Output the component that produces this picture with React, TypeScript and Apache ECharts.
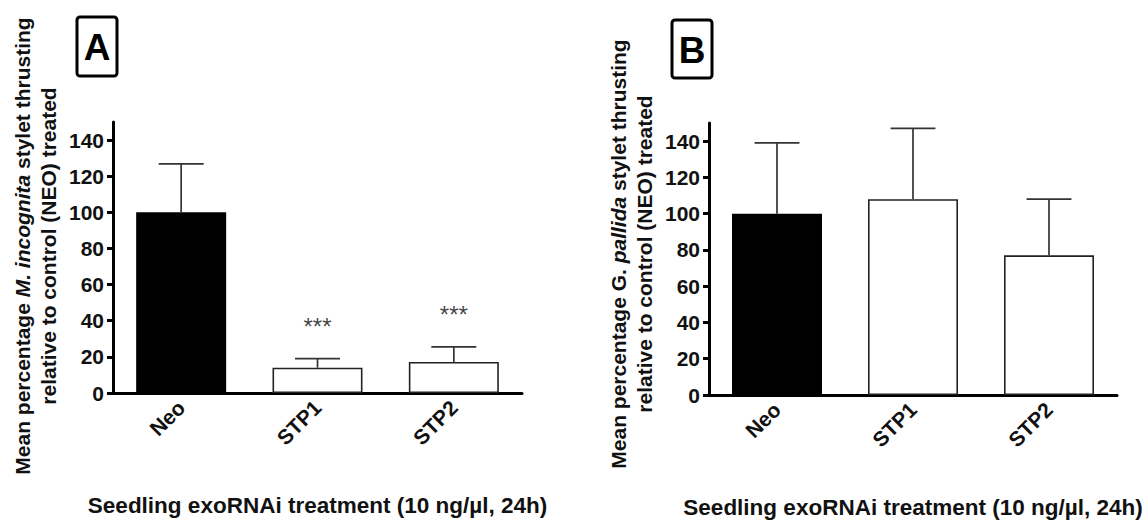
import React, { useEffect, useRef } from "react";
import * as echarts from "echarts";

const categories = ["Neo", "STP1", "STP2"];
const meanA = [100, 14, 17.2];
const semA = [26.8, 5, 8.3];
const sigA = ["", "***", "***"];
const meanB = [100, 108, 77];
const semB = [39, 39, 31];
const sigB = ["", "", ""];
const yTicks = [0, 20, 40, 60, 80, 100, 120, 140];
const xTitle = "Seedling exoRNAi treatment (10 ng/\u00b5l, 24h)";

const FONT = "'Liberation Sans', Arial, Helvetica, sans-serif";
const STAR_OFFSET = 18;

function buildPanel(idx: number, means: number[], sems: number[], sigs: string[]) {
  const bar = {
    type: "bar",
    xAxisIndex: idx,
    yAxisIndex: idx,
    barWidth: 90,
    data: means.map((v, i) => ({
      value: v,
      itemStyle: {
        color: i === 0 ? "#000" : "#fff",
        borderColor: "#222",
        borderWidth: i === 0 ? 0 : 1.6,
      },
    })),
    z: 2,
  };
  const err = {
    type: "custom",
    xAxisIndex: idx,
    yAxisIndex: idx,
    data: means.map((v, i) => [i, v, v + sems[i]]),
    z: 3,
    renderItem: (params: any, api: any) => {
      const p0 = api.coord([api.value(0), api.value(1)]);
      const p1 = api.coord([api.value(0), api.value(2)]);
      const half = api.size([1, 0])[0] * 0.165;
      const st = { stroke: "#333", lineWidth: 1.7 };
      return {
        type: "group",
        children: [
          { type: "line", shape: { x1: p0[0], y1: p0[1], x2: p1[0], y2: p1[1] }, style: st },
          { type: "line", shape: { x1: p1[0] - half, y1: p1[1], x2: p1[0] + half, y2: p1[1] }, style: st },
        ],
      };
    },
  };
  const stars = {
    type: "scatter",
    xAxisIndex: idx,
    yAxisIndex: idx,
    symbolSize: 0,
    silent: true,
    data: means
      .map((v, i) => ({ value: [i, v + sems[i] + STAR_OFFSET], name: sigs[i] }))
      .filter((d) => d.name !== ""),
    label: {
      show: true,
      position: "inside",
      formatter: (p: any) => p.name,
      fontFamily: FONT,
      fontSize: 24,
      color: "#111",
    },
    z: 4,
  };
  return [bar, err, stars];
}

function axisPair(idx: number) {
  const xAxis = {
    type: "category",
    gridIndex: idx,
    data: categories,
    axisLine: { lineStyle: { color: "#000", width: 3 } },
    axisTick: { alignWithLabel: true, length: 7, lineStyle: { color: "#000", width: 3 } },
    axisLabel: {
      rotate: 45,
      margin: 11,
      fontFamily: FONT,
      fontWeight: "bold",
      fontSize: 21,
      color: "#111",
    },
    name: xTitle,
    nameLocation: "middle",
    nameGap: 101,
    nameTextStyle: { fontFamily: FONT, fontWeight: "bold", fontSize: 22.5, color: "#111" },
  };
  const yAxis = {
    type: "value",
    gridIndex: idx,
    min: 0,
    max: 150,
    interval: 20,
    splitLine: { show: false },
    axisLine: { show: true, lineStyle: { color: "#000", width: 3 } },
    axisTick: { show: true, length: 6, lineStyle: { color: "#000", width: 3 }, customValues: yTicks },
    axisLabel: {
      customValues: yTicks,
      margin: 9,
      fontFamily: FONT,
      fontWeight: "bold",
      fontSize: 21,
      color: "#111",
    },
  };
  return { xAxis, yAxis };
}

function yTitle(x: number, y: number, species: string, italicStart: string) {
  const base = { fontFamily: FONT, fontWeight: "bold", fontSize: 21, lineHeight: 26, fill: "#111" };
  return {
    type: "text",
    x,
    y,
    rotation: Math.PI / 2,
    style: {
      text:
        "{b|Mean percentage " + italicStart + "}{i|" + species + "}{b| stylet thrusting}\n{b|relative to control (NEO) treated}",
      rich: {
        b: { ...base },
        i: { ...base, fontStyle: "italic" },
      },
      align: "center",
      verticalAlign: "middle",
    },
  };
}

function panelLabel(x: number, y: number, w: number, h: number, letter: string) {
  return {
    type: "group",
    children: [
      {
        type: "rect",
        shape: { x, y, width: w, height: h, r: 3 },
        style: { fill: "#fff", stroke: "#000", lineWidth: 3 },
      },
      {
        type: "text",
        x: x + w / 2,
        y: y + h / 2 + 1,
        style: {
          text: letter,
          fontFamily: FONT,
          fontWeight: "bold",
          fontSize: 37,
          fill: "#000",
          align: "center",
          verticalAlign: "middle",
        },
      },
    ],
  };
}

export default function App() {
  const ref = useRef<HTMLDivElement>(null);
  useEffect(() => {
    if (!ref.current) return;
    const chart = echarts.init(ref.current, undefined, { renderer: "svg" });
    const a = axisPair(0);
    const b = axisPair(1);
    chart.setOption({
      animation: false,
      backgroundColor: "#fff",
      grid: [
        { left: 113, right: 626, top: 122, bottom: 132, containLabel: false },
        { left: 709, right: 31, top: 123, bottom: 130, containLabel: false },
      ],
      xAxis: [a.xAxis, b.xAxis],
      yAxis: [a.yAxis, b.yAxis],
      series: [...buildPanel(0, meanA, semA, sigA), ...buildPanel(1, meanB, semB, sigB)],
      graphic: [
        yTitle(35, 246, "M. incognita", ""),
        yTitle(631, 254, "pallida", "G. "),
        panelLabel(77, 17, 40, 59, "A"),
        panelLabel(672, 20, 40, 58, "B"),
      ],
    });
    return () => chart.dispose();
  }, []);
  return (
    <div
      ref={ref}
      style={{ position: "fixed", left: 0, top: 0, width: 1148, height: 525, background: "#fff" }}
    />
  );
}
